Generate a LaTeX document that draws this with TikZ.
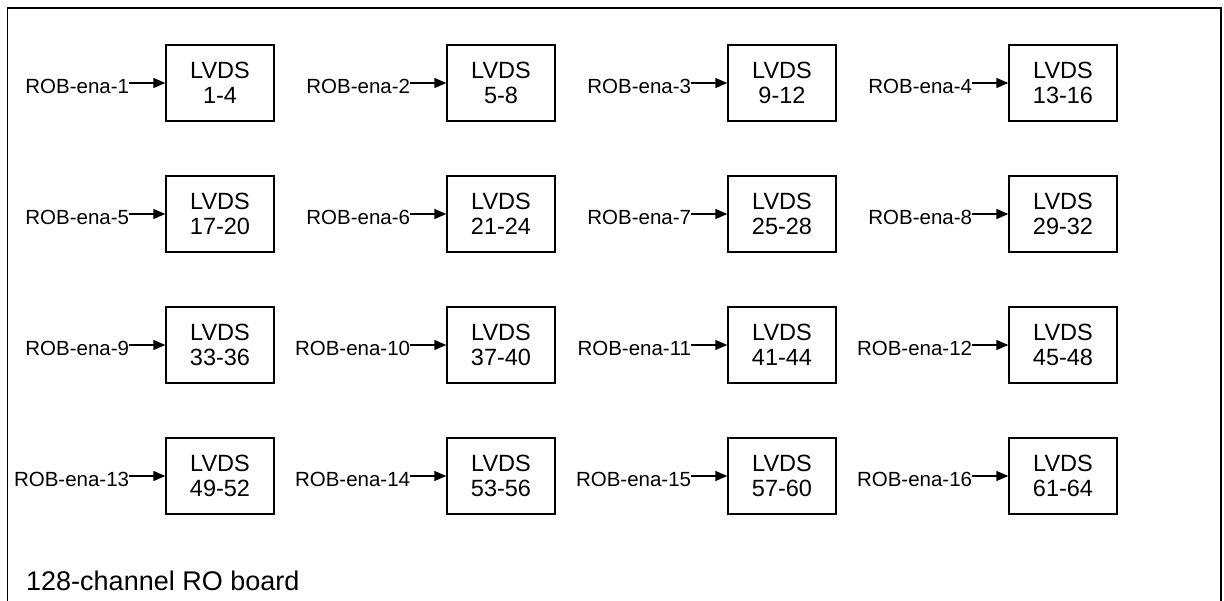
\documentclass[tikz,border=0pt]{standalone}
\usepackage{fontspec}
\setmainfont{Liberation Sans}
\usetikzlibrary{arrows.meta}
\begin{document}
\begin{tikzpicture}[x=1pt,y=-1pt,
  lvds/.style={draw,line width=1.4pt,minimum width=108pt,minimum height=76pt,inner sep=0pt,align=center,font=\fontsize{23.5}{25.5}\selectfont},
  enalabel/.style={anchor=base east,inner sep=0pt,font=\fontsize{20.5}{24}\selectfont},
  feed/.style={line width=1.4pt,-{Triangle[length=12pt,width=10pt]}}]
\useasboundingbox (0,0) rectangle (1224,601);
\draw[line width=1.5pt] (7.5,601) -- (7.5,8) -- (1221,8) -- (1221,601);
\foreach \r in {0,1,2,3}{
  \foreach \c in {0,1,2,3}{
    \pgfmathtruncatemacro{\k}{4*\r+\c+1}
    \pgfmathtruncatemacro{\lo}{4*\k-3}
    \pgfmathtruncatemacro{\hi}{4*\k}
    \node[lvds] (box\k) at (220+281*\c, 83+131*\r) {LVDS\\\lo-\hi};
    \coordinate (in\k) at ([xshift=-36pt]box\k.west);
    \node[enalabel] (lab\k) at ([yshift=-10.5pt]in\k) {ROB-ena-\k};
    \draw[feed] (in\k) -- (box\k.west);
  }
}
\node[anchor=base west,inner sep=0pt,font=\fontsize{27}{30}\selectfont] (title) at (26,590) {128-channel RO board};
\end{tikzpicture}
\end{document}
